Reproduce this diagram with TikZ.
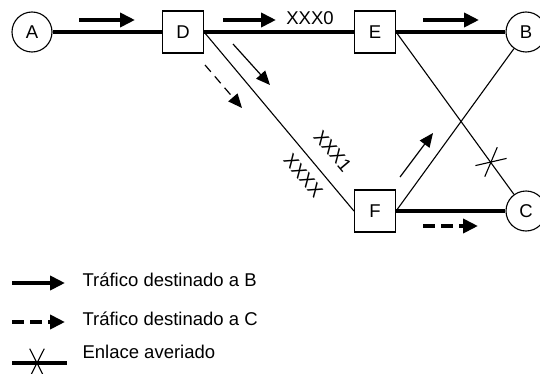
\documentclass[tikz,border=0pt]{standalone}
\usepackage{fontspec}
\setmainfont{Liberation Sans}
\usetikzlibrary{arrows.meta,calc,positioning}

\tikzset{
  averia/.pic={
    \draw[line width=1.1pt] (63:-16) -- (63:16);
    \draw[line width=1.1pt] (117:-16) -- (117:16);
  }
}

\begin{document}
\begin{tikzpicture}[x=1pt,y=1pt,
  every node/.style={font=\fontsize{18.5}{22}\selectfont},
  router/.style={draw,line width=1.1pt,minimum width=41pt,minimum height=42pt,inner sep=0pt},
  host/.style={draw,circle,line width=1.1pt,minimum size=40pt,inner sep=0pt},
  trunk/.style={line width=4.5pt},
  link/.style={line width=1.1pt},
  flowB/.style={line width=4.5pt,-{Triangle[length=15pt,width=14pt]}},
  flowC/.style={flowB,dash pattern=on 12pt off 6pt},
  hintB/.style={line width=1.2pt,-{Triangle[length=14pt,width=12pt]}},
  hintC/.style={hintB,dash pattern=on 9pt off 6pt}]
  \useasboundingbox (0,0) rectangle (540,373);

  % nodos de la red
  \node[host] (A) at (32,341) {A};
  \node[router] (D) at (183,341) {D};
  \node[router] (E) at (375,341) {E};
  \node[host] (B) at (526,341) {B};
  \node[router] (F) at (375,162) {F};
  \node[host] (C) at (526,162) {C};

  % enlaces
  \draw[trunk] (A) -- (D);
  \draw[trunk] (D) -- (E);
  \draw[trunk] (E) -- (B);
  \draw[trunk] (F) -- (C);
  \draw[link] (D.east) -- node[sloped,pos=0.745,above=12pt] (lblF1) {XXX1}
    node[sloped,pos=0.745,below=6pt] (lblFX) {XXXX} (F.west);
  \draw[link] (E.east) -- (C);
  \draw[link] (F.east) -- (B);
  \pic[rotate=-50] at (491,211) {averia};
  \node (lblE) at (310,355) {XXX0};

  % flujos de trafico
  \coordinate (ad0) at (79,353);  \coordinate (ad1) at (135,353);
  \coordinate (de0) at (223,353); \coordinate (de1) at (276,353);
  \coordinate (eb0) at (423,353); \coordinate (eb1) at (479,353);
  \coordinate (fc0) at (423,147); \coordinate (fc1) at (478,147);
  \coordinate (df0) at (233,329); \coordinate (df1) at (270,288);
  \coordinate (dc0) at (205,308); \coordinate (dc1) at (242,265);
  \coordinate (fb0) at (400,196); \coordinate (fb1) at (433,240);
  \draw[flowB] (ad0) -- (ad1);
  \draw[flowB] (de0) -- (de1);
  \draw[flowB] (eb0) -- (eb1);
  \draw[flowC] (fc0) -- (fc1);
  \draw[hintB] (df0) -- (df1);
  \draw[hintC] (dc0) -- (dc1);
  \draw[hintB] (fb0) -- (fb1);

  % leyenda
  \coordinate (k10) at (12,90); \coordinate (k11) at (65,90);
  \coordinate (k20) at (12,51); \coordinate (k21) at (65,51);
  \coordinate (k30) at (12,10); \coordinate (k31) at (67,10);
  \draw[flowB] (k10) -- (k11);
  \draw[flowC] (k20) -- (k21);
  \draw[trunk] (k30) -- (k31);
  \pic at (37,10) {averia};
  \node[anchor=base west] (txtB) at (79,87) {Tráfico destinado a B};
  \node[anchor=base west] (txtC) at (79,48) {Tráfico destinado a C};
  \node[anchor=base west] (txtX) at (79,15) {Enlace averiado};
\end{tikzpicture}
\end{document}
